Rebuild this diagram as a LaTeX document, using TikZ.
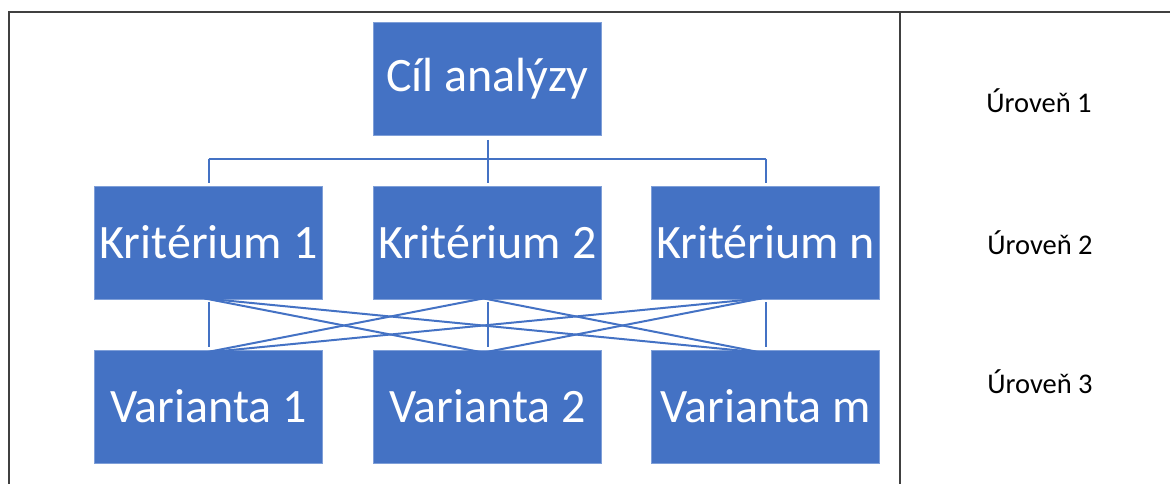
\documentclass[tikz,border=0pt]{standalone}
\usepackage{fontspec}
\setmainfont{Carlito}
\usetikzlibrary{calc}
\definecolor{boxblue}{HTML}{4472C4}
\definecolor{boxedge}{HTML}{7F9FD8}
\definecolor{frame}{HTML}{404040}
\begin{document}
\begin{tikzpicture}[x=1pt,y=-1pt,
  blk/.style={rectangle, fill=boxblue, draw=boxedge, line width=0.8pt,
    minimum width=228pt, minimum height=113pt, inner sep=0pt,
    text=white, font=\fontsize{48}{56}\selectfont},
  lvl/.style={anchor=base, inner sep=0pt, text=black, font=\fontsize{28.5}{34}\selectfont},
  conn/.style={draw=boxblue, line width=2pt},
  frm/.style={draw=frame, line width=2pt}]
\useasboundingbox (0,0) rectangle (1170,484);
% frame
\draw[frm] (9,484) -- (9,12) -- (1170,12);
\draw[frm] (900,12) -- (900,484);
% boxes
\node[blk] (goal) at (487.5,79) {Cíl analýzy};
\node[blk] (k1) at (208.5,242.5) {Kritérium 1};
\node[blk] (k2) at (487.5,242.5) {Kritérium 2};
\node[blk] (k3) at (765.5,242.5) {Kritérium n};
\node[blk] (v1) at (208.5,406.5) {Varianta 1};
\node[blk] (v2) at (487.5,406.5) {Varianta 2};
\node[blk] (v3) at (765.5,406.5) {Varianta m};
% level labels
\node[lvl] (l1) at (1039,113) {Úroveň 1};
\node[lvl] (l2) at (1040,254) {Úroveň 2};
\node[lvl] (l3) at (1040,393) {Úroveň 3};
% top connectors
\coordinate (bar) at (487,159);
\draw[conn, shorten <=4pt, shorten >=3pt] (goal.south) -- (k2.north);
\draw[conn] (k1.north |- bar) -- (k3.north |- bar);
\draw[conn, shorten >=3pt] (k1.north |- bar) -- (k1.north);
\draw[conn, shorten >=3pt] (k3.north |- bar) -- (k3.north);
% vertical lower connectors
\foreach \i in {1,2,3}{
  \draw[conn, shorten <=3pt, shorten >=3pt] (k\i.south) -- (v\i.north);
}
% diagonal lower connectors
\foreach \i/\j in {1/2,1/3,2/1,2/3,3/1,3/2}{
  \draw[conn] ([xshift=-4pt,yshift=1pt]k\i.south) -- ([xshift=-4pt,yshift=-3pt]v\j.north);
}
\end{tikzpicture}
\end{document}
